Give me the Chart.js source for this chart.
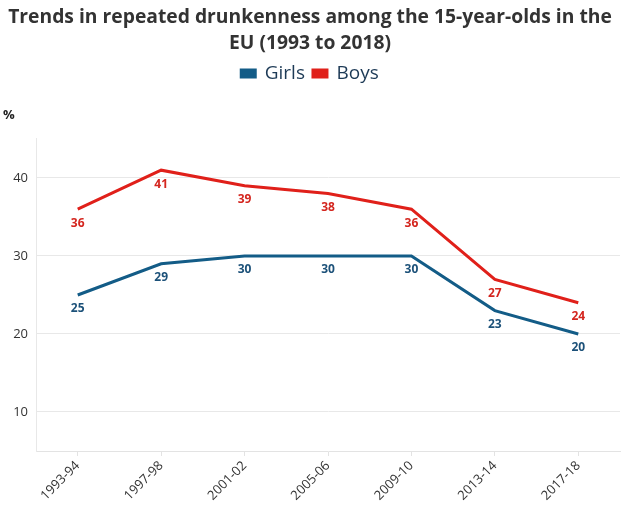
<!DOCTYPE html>
<html>
<head>
<meta charset="utf-8">
<script src="https://cdn.jsdelivr.net/npm/chart.js@4/dist/chart.umd.min.js"></script>
<style>
  html, body { margin: 0; padding: 0; background: #fff; }
  #wrap { width: 633px; height: 515px; }
</style>
</head>
<body>
<div id="wrap"><canvas id="chart"></canvas></div>
<script>
const periods = ['1993-94', '1997-98', '2001-02', '2005-06', '2009-10', '2013-14', '2017-18'];
const girls = [25, 29, 30, 30, 30, 23, 20];
const boys = [36, 41, 39, 38, 36, 27, 24];
const yTicks = [10, 20, 30, 40];

const FONT = "'Open Sans', 'Noto Sans', sans-serif";

// extra room between legend and plot
const legendGap = {
  id: 'legendGap',
  beforeInit(chart) {
    const fit = chart.legend.fit;
    chart.legend.fit = function () {
      fit.bind(chart.legend)();
      this.height += 46;
    };
  }
};

// labels drawn under each point, plus the "%" unit label
const pointLabels = {
  id: 'pointLabels',
  afterDatasetsDraw(chart) {
    const ctx = chart.ctx;
    ctx.save();
    ctx.font = 'bold 12px ' + FONT;
    ctx.textAlign = 'center';
    ctx.textBaseline = 'middle';
    chart.data.datasets.forEach((ds, i) => {
      const meta = chart.getDatasetMeta(i);
      ctx.fillStyle = ds.labelColor;
      meta.data.forEach((pt, j) => {
        ctx.fillText(ds.data[j], pt.x, pt.y + 14);
      });
    });
    ctx.font = 'bold 13px ' + FONT;
    ctx.fillStyle = '#222';
    ctx.textAlign = 'left';
    ctx.fillText('%', 3, chart.chartArea.top - 24);
    ctx.restore();
  }
};

new Chart(document.getElementById('chart'), {
  type: 'line',
  data: {
    labels: periods,
    datasets: [
      {
        label: 'Girls',
        data: girls,
        borderColor: '#135c87',
        backgroundColor: '#135c87',
        labelColor: '#1c5179',
        borderWidth: 3,
        pointRadius: 0,
        tension: 0
      },
      {
        label: 'Boys',
        data: boys,
        borderColor: '#e0201a',
        backgroundColor: '#e0201a',
        labelColor: '#d4261f',
        borderWidth: 3,
        pointRadius: 0,
        tension: 0
      }
    ]
  },
  options: {
    responsive: true,
    maintainAspectRatio: false,
    animation: false,
    layout: { padding: { top: 5, left: 0, right: 13, bottom: 0 } },
    plugins: {
      title: {
        display: true,
        text: ['Trends in repeated drunkenness among the 15-year-olds in the', 'EU (1993 to 2018)'],
        color: '#333',
        font: { family: FONT, size: 19.3, weight: 'bold', lineHeight: 1.32 },
        padding: { top: 0, bottom: 0 }
      },
      legend: {
        display: true,
        labels: {
          color: '#1d3a56',
          font: { family: FONT, size: 19 },
          boxWidth: 14,
          boxHeight: 7,
          padding: 8
        }
      },
      tooltip: { enabled: false }
    },
    scales: {
      x: {
        offset: true,
        grid: {
          display: true,
          drawOnChartArea: false,
          color: '#e3e3e3',
          tickLength: 5
        },
        border: { display: true, color: '#e3e3e3' },
        ticks: {
          color: '#333',
          font: { family: FONT, size: 13 },
          maxRotation: 45,
          minRotation: 45,
          padding: 2
        },
        afterFit(axis) { axis.height = 64; }
      },
      y: {
        min: 5,
        max: 45,
        afterBuildTicks(axis) { axis.ticks = yTicks.map(v => ({ value: v })); },
        grid: { color: '#e8e8e8', drawTicks: false },
        border: { display: true, color: '#e8e8e8' },
        ticks: {
          color: '#333',
          font: { family: FONT, size: 13 },
          padding: 8
        },
        afterFit(axis) { axis.width = 36; }
      }
    }
  },
  plugins: [legendGap, pointLabels]
});
</script>
</body>
</html>
